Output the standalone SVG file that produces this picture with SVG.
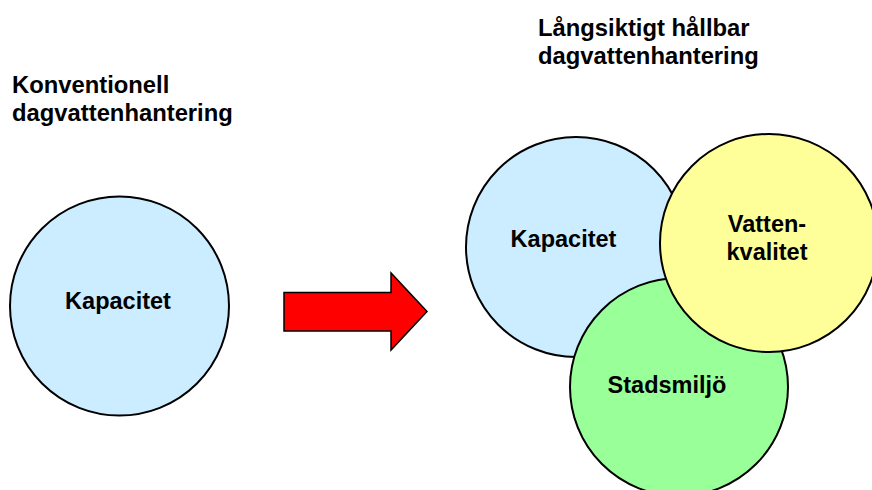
<svg xmlns="http://www.w3.org/2000/svg" width="872" height="490" viewBox="0 0 872 490">
<style>
text{font-family:"Liberation Sans",Arial,sans-serif;font-weight:bold;font-size:23.5px;fill:#000}
.t{font-size:23.8px}
.c{text-anchor:middle}
.circ{stroke:#000;stroke-width:2}
</style>
<rect width="872" height="490" fill="#fff"/>
<g id="title-left">
<text class="t" x="12" y="93">Konventionell</text>
<text class="t" x="12" y="121">dagvattenhantering</text>
</g>
<g id="title-right">
<text class="t" x="538" y="36">Långsiktigt hållbar</text>
<text class="t" x="538" y="63.5">dagvattenhantering</text>
</g>
<g id="kapacitet-left">
<circle class="circ" cx="119.5" cy="306" r="109.5" fill="#CCECFF"/>
<text class="c" x="118" y="309">Kapacitet</text>
</g>
<g id="connectors">
<polygon points="284,292.5 391,292.5 391,273 427,311.5 391,350 391,331 284,331" fill="#FF0000" stroke="#000" stroke-width="1.5" stroke-linejoin="miter"/>
</g>
<g id="kapacitet-right">
<circle class="circ" cx="576" cy="247" r="110" fill="#CCECFF"/>
<text class="c" x="563.5" y="247">Kapacitet</text>
</g>
<g id="stadsmiljo">
<circle class="circ" cx="679" cy="387" r="109" fill="#99FF99"/>
<text class="c" x="667" y="393">Stadsmiljö</text>
</g>
<g id="vattenkvalitet">
<circle class="circ" cx="769" cy="243" r="109" fill="#FFFF99"/>
<text class="c" x="767" y="232">Vatten-</text>
<text class="c" x="767" y="260">kvalitet</text>
</g>
</svg>
